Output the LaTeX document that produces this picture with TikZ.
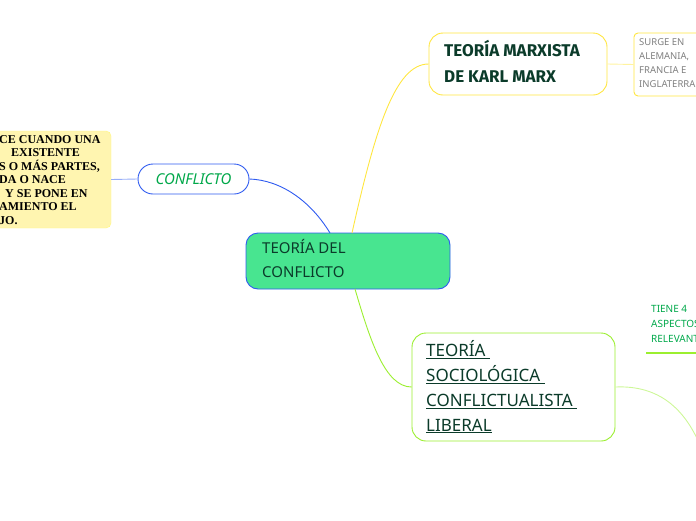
\documentclass[tikz,border=0pt]{standalone}
\usepackage{fontspec}
\setmainfont{Noto Sans}
\newfontfamily\serifbold{Liberation Serif}
\newfontfamily\handfont{Fira Sans}
\usetikzlibrary{positioning}
\definecolor{topicgreen}{HTML}{48E590}
\definecolor{darktext}{HTML}{0B3B2A}
\definecolor{linkblue}{HTML}{2F5BF0}
\definecolor{markyellow}{HTML}{FFE640}
\definecolor{limegreen}{HTML}{9BEF2F}
\definecolor{notegreen}{HTML}{00A84A}
\definecolor{notefill}{HTML}{FFF5B0}
\tikzset{
  topic/.style={draw=linkblue, fill=topicgreen, rounded corners=12pt, text=darktext, line width=0.9pt,
    minimum width=204pt, minimum height=56pt},
  branch/.style={draw, fill=white, rounded corners=14pt, line width=0.9pt},
  note/.style={align=left, inner sep=0pt},
  link/.style={line width=0.9pt}
}
\begin{document}
\begin{tikzpicture}[x=1pt,y=-1pt]
  \useasboundingbox (0,0) rectangle (696,520);
  \clip (0,0) rectangle (696,520);
  % main topic
  \node[topic] (main) at (348,261) {};
  \node[note, anchor=north west, text=darktext, font=\fontsize{15}{24}\selectfont] (maintext) at (262,239)
    {TEORÍA DEL\\CONFLICTO};
  % left side
  \node[branch, draw=linkblue, rounded corners=15pt, minimum width=111pt, minimum height=30pt,
    font=\fontsize{15}{15}\selectfont\itshape, text=notegreen] (confl) at (193.5,179) {CONFLICTO};
  \node[draw=notefill!70!yellow, fill=notefill, rounded corners=5pt, minimum width=130pt,
    minimum height=97pt] (defbox) at (46,179.5) {};
  \node[note, anchor=north west, font=\serifbold\bfseries\fontsize{12}{13.5}\selectfont] (deftext) at (-1,135)
    {CE CUANDO UNA\\\hspace{12pt}EXISTENTE\\S O MÁS PARTES,\\DA O NACE\\\hspace{6pt}Y SE PONE EN\\AMIENTO EL\\JO.};
  \draw[link, linkblue!50] (defbox.east) -- (confl.west);
  \draw[link, linkblue] (330,233) .. controls (310,200) and (280,180) .. (confl.east);
  % upper branch
  \node[branch, draw=markyellow, minimum width=178pt, minimum height=62pt] (marx) at (518,64) {};
  \node[note, anchor=north west, text=darktext, font=\handfont\bfseries\fontsize{17}{26}\selectfont] (marxtext) at (444,40)
    {TEORÍA MARXISTA\\DE KARL MARX};
  \node[branch, draw=markyellow, rounded corners=4pt, minimum width=90pt, minimum height=63pt] (surgebox) at (679,64.5) {};
  \node[note, anchor=north west, text=gray, font=\fontsize{9.5}{14}\selectfont] (surge) at (639,38)
    {SURGE EN\\ALEMANIA,\\FRANCIA E\\INGLATERRA};
  \draw[link, markyellow!50] (marx.east) -- (surgebox.west);
  \draw[link, markyellow] (352,233) .. controls (375,130) and (395,64) .. (marx.west);
  % lower branch
  \node[branch, draw=limegreen, minimum width=203pt, minimum height=108pt] (socio) at (513.5,387) {};
  \node[note, anchor=north west, text=darktext, font=\bfseries\fontsize{17}{25}\selectfont] (sociotext) at (426,340)
    {\underline{TEORÍA }\\\underline{SOCIOLÓGICA }\\\underline{CONFLICTUALISTA }\\\underline{LIBERAL}};
  \draw[link, limegreen] (355,289) .. controls (370,340) and (385,387) .. (socio.west);
  \node[note, anchor=north west, text=notegreen, font=\fontsize{10}{15}\selectfont] (tiene) at (651,305)
    {TIENE 4\\ASPECTOS\\RELEVANTES};
  \coordinate (tieneL) at (646,353);
  \coordinate (tieneR) at (700,353);
  \draw[limegreen, line width=1.5pt] (tieneL) -- (tieneR);
  \coordinate (offpage) at (700,445);
  \draw[link, limegreen!50] (socio.east) .. controls (660,385) and (685,410) .. (offpage);
\end{tikzpicture}
\end{document}
